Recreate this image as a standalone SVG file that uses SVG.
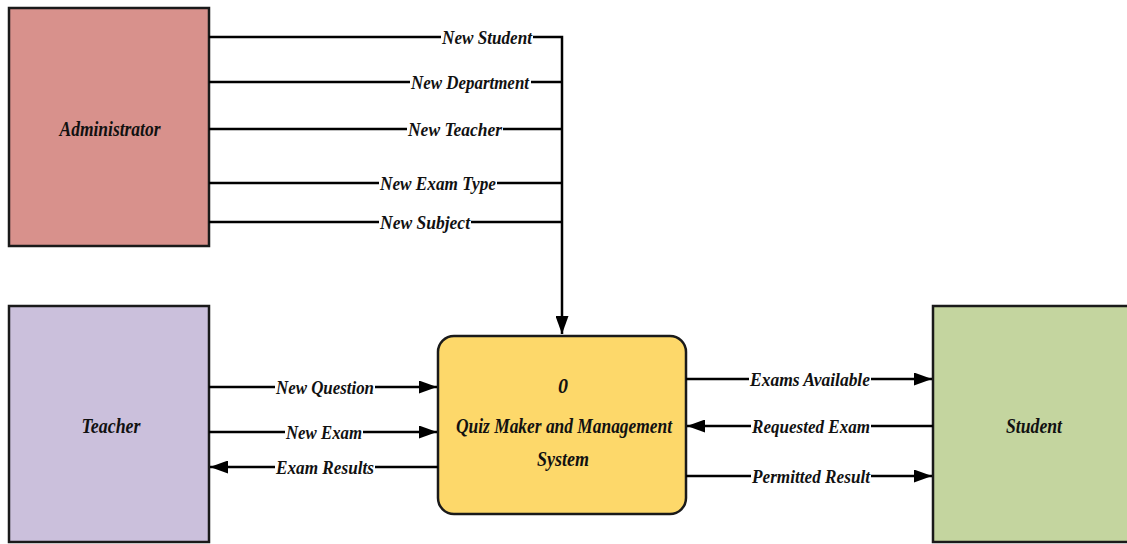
<svg xmlns="http://www.w3.org/2000/svg" width="1127" height="544" viewBox="0 0 1127 544">
<style>
.box{stroke:#1a1a1a;stroke-width:2.5}
.lbl{font-family:"Liberation Serif",serif;font-style:italic;font-weight:bold;font-size:19px;fill:#111;text-anchor:middle;dominant-baseline:central}
.ttl{font-family:"Liberation Serif",serif;font-style:italic;font-weight:bold;font-size:20px;fill:#111;text-anchor:middle;dominant-baseline:central}
.ln{stroke:#000;stroke-width:2.5;fill:none}
.bg{fill:#fff}
</style>
<defs>
<marker id="ah" viewBox="0 0 18 13" refX="18" refY="6.5" markerWidth="18" markerHeight="13" markerUnits="userSpaceOnUse" orient="auto">
<path d="M0,0 L18,6.5 L0,13 Z" fill="#000"/>
</marker>
</defs>
<g id="administrator">
<rect class="box" x="9" y="8" width="200" height="238" fill="#d8918c"/>
<text class="ttl" x="110" y="129" textLength="101" lengthAdjust="spacingAndGlyphs">Administrator</text>
</g>
<g id="teacher">
<rect class="box" x="9" y="306" width="200" height="236" fill="#cbc0dc"/>
<text class="ttl" x="111" y="426" textLength="59" lengthAdjust="spacingAndGlyphs">Teacher</text>
</g>
<g id="student">
<rect class="box" x="933" y="306" width="200" height="236" fill="#c4d59f"/>
<text class="ttl" x="1034" y="426" textLength="56" lengthAdjust="spacingAndGlyphs">Student</text>
</g>
<g id="process">
<rect class="box" x="438" y="336" width="248" height="178" rx="16" ry="16" fill="#fdd86a"/>
<text class="ttl" x="563" y="386">0</text>
<text class="ttl" x="564" y="426" textLength="216" lengthAdjust="spacingAndGlyphs">Quiz Maker and Management</text>
<text class="ttl" x="563" y="459" textLength="52" lengthAdjust="spacingAndGlyphs">System</text>
</g>
<g id="connectors">
<path class="ln" d="M209,37 H562 V334" marker-end="url(#ah)"/>
<path class="ln" d="M209,82 H562"/>
<path class="ln" d="M209,129 H562"/>
<path class="ln" d="M209,183 H562"/>
<path class="ln" d="M209,222 H562"/>
<path class="ln" d="M209,387 H437" marker-end="url(#ah)"/>
<path class="ln" d="M209,432 H437" marker-end="url(#ah)"/>
<path class="ln" d="M438,467 H210" marker-end="url(#ah)"/>
<path class="ln" d="M686,379 H932" marker-end="url(#ah)"/>
<path class="ln" d="M933,426 H687" marker-end="url(#ah)"/>
<path class="ln" d="M686,476 H932" marker-end="url(#ah)"/>
<rect class="bg" x="441" y="27" width="92" height="20"/>
<text class="lbl" x="487" y="37" textLength="90" lengthAdjust="spacingAndGlyphs">New Student</text>
<rect class="bg" x="410" y="72" width="121" height="20"/>
<text class="lbl" x="470" y="82" textLength="118" lengthAdjust="spacingAndGlyphs">New Department</text>
<rect class="bg" x="407" y="119" width="96" height="20"/>
<text class="lbl" x="455" y="129" textLength="94" lengthAdjust="spacingAndGlyphs">New Teacher</text>
<rect class="bg" x="379" y="173" width="118" height="20"/>
<text class="lbl" x="438" y="183" textLength="116" lengthAdjust="spacingAndGlyphs">New Exam Type</text>
<rect class="bg" x="379" y="212" width="92" height="20"/>
<text class="lbl" x="425" y="222" textLength="90" lengthAdjust="spacingAndGlyphs">New Subject</text>
<rect class="bg" x="275" y="377" width="100" height="20"/>
<text class="lbl" x="325" y="387" textLength="98" lengthAdjust="spacingAndGlyphs">New Question</text>
<rect class="bg" x="285" y="422" width="78" height="20"/>
<text class="lbl" x="324" y="432" textLength="76" lengthAdjust="spacingAndGlyphs">New Exam</text>
<rect class="bg" x="275" y="457" width="100" height="20"/>
<text class="lbl" x="325" y="467" textLength="98" lengthAdjust="spacingAndGlyphs">Exam Results</text>
<rect class="bg" x="749" y="369" width="122" height="20"/>
<text class="lbl" x="810" y="379" textLength="120" lengthAdjust="spacingAndGlyphs">Exams Available</text>
<rect class="bg" x="751" y="416" width="120" height="20"/>
<text class="lbl" x="811" y="426" textLength="118" lengthAdjust="spacingAndGlyphs">Requested Exam</text>
<rect class="bg" x="751" y="466" width="120" height="20"/>
<text class="lbl" x="811" y="476" textLength="118" lengthAdjust="spacingAndGlyphs">Permitted Result</text>
</g>
</svg>
